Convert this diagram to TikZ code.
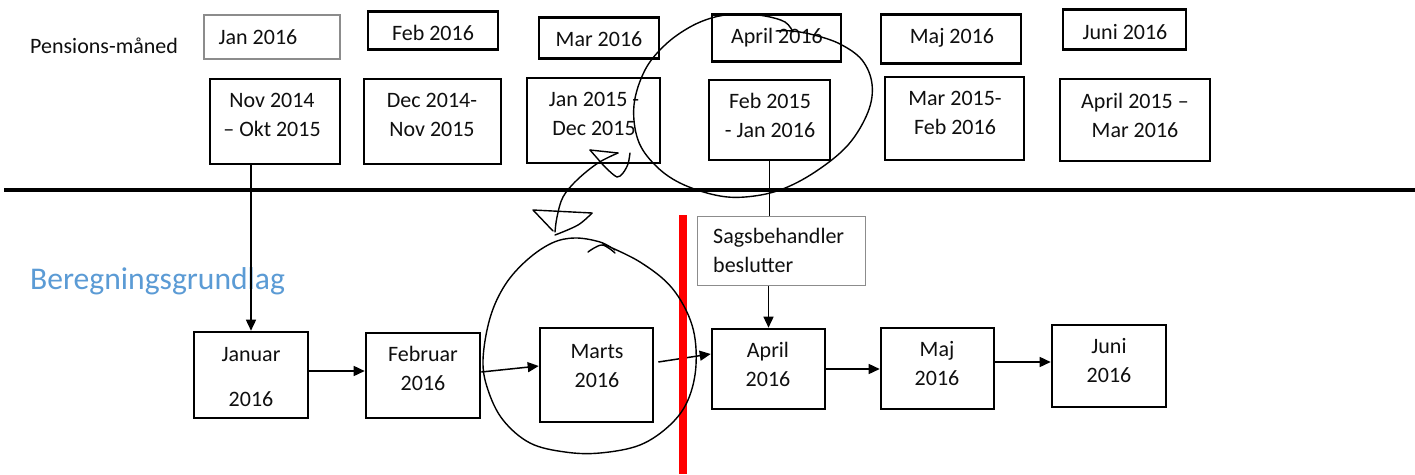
\documentclass[tikz,border=0pt]{standalone}
\usepackage{fontspec}
\setmainfont{Carlito}
\usetikzlibrary{arrows.meta}
\definecolor{bluetxt}{RGB}{91,155,213}
\definecolor{txt}{RGB}{15,15,15}
\definecolor{thingray}{RGB}{140,140,140}
\definecolor{redline}{RGB}{255,0,0}
\begin{document}
\begin{tikzpicture}[x=1pt,y=-1pt,
  box/.style={draw=black, line width=2.6pt, rectangle, inner sep=0pt},
  thinbox/.style={draw=thingray, line width=1.3pt, rectangle, inner sep=0pt},
  lbl/.style={font=\fontsize{22}{29}\selectfont, text=txt, inner sep=0pt, align=center},
  conn/.style={line width=1.5pt, draw=black},
  arr/.style={conn, -{Triangle[length=11pt,width=10pt]}},
  hand/.style={line width=1.4pt, draw=black, line cap=round, line join=round},
]
\fill[white] (0,0) rectangle (1415,474);
\useasboundingbox (0,0) rectangle (1415,474);

% headings
\node[lbl, anchor=base west] (pens) at (30,53) {Pensions-måned};
\node[lbl, anchor=base west, font=\fontsize{31.6}{36}\selectfont, text=bluetxt] (bereg) at (30,289) {Beregningsgrundlag};

% top row boxes
\node[thinbox, minimum width=136pt, minimum height=44pt] (jan16) at (272,37) {};
\node[box, minimum width=130pt, minimum height=38pt] (feb16) at (433,30.5) {};
\node[box, minimum width=120pt, minimum height=41pt] (mar16) at (599,38) {};
\node[box, minimum width=129pt, minimum height=47pt] (apr16) at (776.5,38) {};
\node[box, minimum width=140pt, minimum height=49pt] (maj16) at (951,39) {};
\node[box, minimum width=123pt, minimum height=40pt] (jun16) at (1124.5,29.5) {};

\node[lbl, anchor=base] (t-jan16) at (258,44) {Jan 2016};
\node[lbl, anchor=base] (t-feb16) at (433,40) {Feb 2016};
\node[lbl, anchor=base] (t-mar16) at (599,46) {Mar 2016};
\node[lbl, anchor=base] (t-apr16) at (777,43) {April 2016};
\node[lbl, anchor=base] (t-maj16) at (952,43) {Maj 2016};
\node[lbl, anchor=base] (t-jun16) at (1125,39) {Juni 2016};

% second row boxes
\node[box, minimum width=130pt, minimum height=85pt] (b-nov) at (275,121.5) {};
\node[box, minimum width=137pt, minimum height=85pt] (b-dec) at (432.5,121.5) {};
\node[box, minimum width=133pt, minimum height=85pt] (b-jan15) at (593.5,120.5) {};
\node[box, minimum width=121pt, minimum height=80pt] (b-feb15) at (769.5,120) {};
\node[box, minimum width=139pt, minimum height=83pt] (b-mar15) at (954.5,118.5) {};
\node[box, minimum width=150pt, minimum height=82pt] (b-apr15) at (1135,120) {};

\node[lbl] (t-nov) at (272,115.4) {Nov 2014\\– Okt 2015};
\node[lbl] (t-dec) at (432,115.4) {Dec 2014-\\Nov 2015};
\node[lbl] (t-jan15) at (594,114.4) {Jan 2015 -\\Dec 2015};
\node[lbl] (t-feb15) at (770,115.4) {Feb 2015\\- Jan 2016};
\node[lbl] (t-mar15) at (955,112.9) {Mar 2015-\\Feb 2016};
\node[lbl] (t-apr15) at (1135,115.4) {April 2015 –\\Mar 2016};

% divider
\coordinate (hl-a) at (4,190);
\coordinate (hl-b) at (1415,190);
\draw[line width=3.5pt] (hl-a) -- (hl-b);

% decision box
\node[thinbox, minimum width=168pt, minimum height=69pt] (sag) at (781.5,251) {};
\node[lbl, align=left, anchor=west] (t-sag) at (713,250) {Sagsbehandler\\beslutter};

% bottom row boxes
\node[box, minimum width=114pt, minimum height=86pt] (b-jan) at (251,375) {};
\node[box, minimum width=114pt, minimum height=85pt] (b-feb) at (423,375.5) {};
\node[box, minimum width=113pt, minimum height=94pt] (b-mar) at (596.5,375) {};
\node[box, minimum width=113pt, minimum height=80pt] (b-apr) at (768.5,369) {};
\node[box, minimum width=113pt, minimum height=81pt] (b-maj) at (937.5,368.5) {};
\node[box, minimum width=114pt, minimum height=82pt] (b-jun) at (1109,366) {};

\node[lbl] (t-jan) at (251,377.4) {Januar\\[16pt]2016};
\node[lbl] (t-feb) at (423,368.9) {Februar\\2016};
\node[lbl] (t-mar) at (597,366) {Marts\\2016};
\node[lbl] (t-apr) at (768,364.4) {April\\2016};
\node[lbl] (t-maj) at (937,364) {Maj\\2016};
\node[lbl] (t-jun) at (1109,360.5) {Juni\\2016};

% connectors
\draw[arr] (b-nov.south -| b-jan.north) -- (b-jan.north);
\draw[conn] (b-feb15.south) -- (b-feb15.south |- sag.north);
\draw[arr] (sag.south -| b-apr.north) -- (b-apr.north);
\draw[arr] ([yshift=4pt]b-jan.east) -- ([yshift=4.5pt]b-feb.west);
\draw[arr] ([yshift=3.5pt]b-feb.east) -- ([yshift=9pt]b-mar.west);
\draw[arr] ([xshift=4pt,yshift=13pt]b-mar.east) -- ([yshift=15pt]b-apr.west);
\draw[arr] (b-apr.east) -- (b-apr.east -| b-maj.west);
\draw[arr] ([yshift=6.5pt]b-maj.east) -- ([yshift=4pt]b-jun.west);

% red line
\coordinate (red-a) at (683,215);
\coordinate (red-b) at (683,474);
\draw[redline, line width=8pt] (red-a) -- (red-b);

% hand-drawn marks
\draw[hand] plot[smooth, tension=0.6] coordinates {
  (793,32) (785,22) (765,16) (740,14) (715,17) (690,27) (665,45) (645,70)
  (634,105) (638,140) (655,165) (680,183) (715,195) (745,197) (780,190)
  (815,172) (848,145) (868,112) (872,84) (862,60) (840,44) (814,35) (792,31) (776,31)};
\draw[hand] plot[smooth, tension=0.5] coordinates {
  (630,153) (628,164) (623,173) (617,177) (606,168) (597,158) (590,150)};
\draw[hand] (590,150) -- (618,153);
\draw[hand] plot[smooth, tension=0.6] coordinates {
  (618,153) (598,163) (577,180) (563,197) (557,217) (555,232)};
\draw[hand] (553,231) -- (533,210) -- (592,213);
\draw[hand] plot[smooth, tension=0.6] coordinates {(592,213) (578,225) (555,235)};
\draw[hand] plot[smooth, tension=0.6] coordinates {
  (603,244) (640,262) (672,288) (692,325) (696,365) (688,400) (670,425)
  (640,445) (600,453) (565,452) (530,443) (503,420) (488,390) (483,360)
  (490,318) (505,285) (527,260) (552,243) (575,238) (600,242) (615,250)};
\draw[hand] plot[smooth, tension=0.6] coordinates {(588,252) (602,245) (615,253)};
\end{tikzpicture}
\end{document}
